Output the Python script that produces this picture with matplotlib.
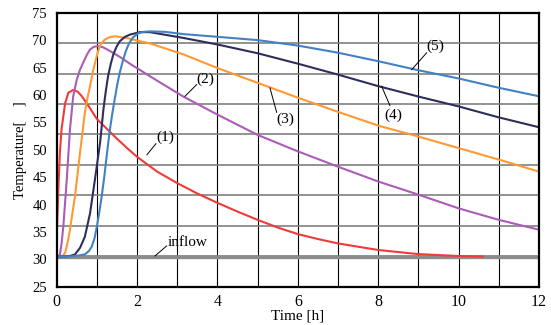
import numpy as np
import matplotlib.pyplot as plt

plt.rcParams['font.family'] = ['Liberation Serif', 'DejaVu Serif']

# time [h] and temperature readings for each case
t1 = [0, 0.04, 0.08, 0.12, 0.21, 0.29, 0.41, 0.52, 0.62, 0.8, 1.0, 1.25, 1.5, 1.75, 2, 2.5, 3, 3.5, 4, 4.5, 5, 5.5, 6, 6.5, 7, 7.5, 8, 9, 10, 10.6]
v1 = [33.8, 42.7, 49.5, 53.7, 58.5, 60.4, 60.9, 60.6, 59.8, 57.9, 55.6, 53.8, 52.0, 50.3, 48.7, 46.0, 43.9, 42.0, 40.3, 38.7, 37.2, 35.8, 34.6, 33.7, 32.9, 32.3, 31.7, 30.95, 30.6, 30.5]

t2 = [0, 0.04, 0.08, 0.12, 0.165, 0.25, 0.33, 0.41, 0.5, 0.58, 0.66, 0.75, 0.83, 0.93, 1.03, 1.15, 1.33, 1.6, 1.82, 2.32, 3.15, 4, 5, 6, 7, 8, 9, 10, 11, 12]
v2 = [30.5, 30.55, 30.9, 32.8, 36.0, 44.5, 53.7, 59.7, 62.8, 64.6, 65.9, 67.3, 68.3, 68.8, 68.9, 68.7, 68.0, 66.8, 65.7, 63.4, 59.7, 56.4, 52.7, 49.7, 46.9, 44.2, 41.8, 39.3, 37.2, 35.4]

t3 = [0, 0.1, 0.16, 0.21, 0.27, 0.33, 0.455, 0.58, 0.7, 0.77, 0.83, 0.91, 1.03, 1.1, 1.2, 1.3, 1.45, 1.74, 2.07, 2.32, 3.15, 4, 5, 6, 7, 8, 9, 10, 11, 12]
v3 = [30.5, 30.55, 30.7, 31.2, 33.0, 35.4, 41.5, 49.4, 56.7, 59.6, 61.6, 64.6, 68.0, 69.3, 70.1, 70.5, 70.7, 70.4, 69.8, 69.4, 67.4, 64.9, 62.2, 59.5, 56.9, 54.4, 52.4, 50.3, 48.2, 46.0]

t4 = [0, 0.25, 0.35, 0.455, 0.58, 0.7, 0.83, 0.95, 1.08, 1.16, 1.22, 1.28, 1.35, 1.41, 1.49, 1.57, 1.7, 1.82, 2.07, 2.32, 3.15, 4, 5, 6, 7, 8, 9, 10, 11, 12]
v4 = [30.5, 30.55, 30.65, 30.9, 32.1, 34.1, 38.4, 44.5, 51.3, 57.2, 60.6, 63.5, 65.8, 67.4, 68.8, 69.8, 70.6, 71.0, 71.45, 71.45, 70.4, 69.2, 67.6, 65.7, 63.7, 61.6, 59.7, 57.9, 55.9, 54.1]

t5 = [0, 0.35, 0.55, 0.7, 0.8, 0.87, 0.94, 1.0, 1.06, 1.12, 1.18, 1.23, 1.28, 1.33, 1.39, 1.45, 1.51, 1.57, 1.65, 1.72, 1.8, 1.9, 2.02, 2.15, 2.32, 2.7, 3.15, 4, 5, 6, 7, 8, 9, 10, 11, 12]
v5 = [30.5, 30.55, 30.7, 30.9, 31.5, 32.3, 33.8, 36.0, 38.6, 41.5, 44.8, 48.0, 51.1, 54.0, 56.9, 59.5, 62.0, 64.1, 66.3, 68.0, 69.4, 70.5, 71.2, 71.5, 71.6, 71.5, 71.1, 70.6, 70.0, 69.0, 67.7, 66.15, 64.5, 63.0, 61.3, 59.75]

t_in = [0, 12]
v_in = [30.5, 30.5]

y_labels = [25, 30, 35, 40, 45, 50, 55, 60, 65, 70, 75]
x_labels = [0, 2, 4, 6, 8, 10, 12]

fig = plt.figure(figsize=(5.51, 3.25), dpi=100)
ax = fig.add_axes([0.1029, 0.1178, 0.8753, 0.8431])

ax.set_xlim(0, 12)
ax.set_ylim(25, 75)

# vertical grid every hour, horizontal grid in 9 equal steps
for h in range(1, 12):
    ax.axvline(h, color='black', lw=0.8, zorder=1)
for k in range(1, 9):
    ax.axhline(25 + 50 * k / 9, color='#808080', lw=1.2, zorder=1)

ax.plot(t_in, v_in, color='#8c8c8c', lw=2.4, zorder=2)
ax.plot(t1, v1, color='#f03a3a', lw=1.5, zorder=3)
ax.plot(t2, v2, color='#ab5cb6', lw=1.5, zorder=3)
ax.plot(t3, v3, color='#ff9933', lw=1.5, zorder=3)
ax.plot(t4, v4, color='#2e2e5c', lw=1.5, zorder=3)
ax.plot(t5, v5, color='#4282c2', lw=1.5, zorder=3)

# leader lines and labels
notes = [
    ('(1)', (2.246, 49.09), (2.47, 51.1), (2.694, 52.2)),
    ('(2)', (3.192, 59.75), (3.483, 61.89), (3.694, 62.8)),
    ('(3)', (5.306, 61.28), (5.473, 56.82), (5.684, 55.49)),
    ('(4)', (8.085, 61.58), (8.291, 58.05), (8.366, 56.23)),
    ('(5)', (8.831, 64.6), (9.204, 67.68), (9.428, 68.89)),
    ('inflow', (2.445, 30.61), (2.736, 32.44), (3.266, 32.99)),
]
for label, p0, p1, pt in notes:
    ax.plot([p0[0], p1[0]], [p0[1], p1[1]], color='black', lw=0.7, zorder=4)
    ax.text(pt[0], pt[1], label, fontsize=11, ha='center', va='center', zorder=4)

ax.set_xticks(x_labels)
ax.set_yticks(y_labels)
ax.tick_params(axis='x', length=0, pad=5, labelsize=11.5)
ax.tick_params(axis='y', length=0, pad=7, labelsize=10.5)

for s in ax.spines.values():
    s.set_linewidth(1.6)
    s.set_zorder(5)

ax.set_xlabel('Time [h]', fontsize=11, labelpad=0)
ax.set_ylabel('Temperature[    ]', fontsize=10.5, labelpad=4)

fig.savefig('out.png', dpi=100)
